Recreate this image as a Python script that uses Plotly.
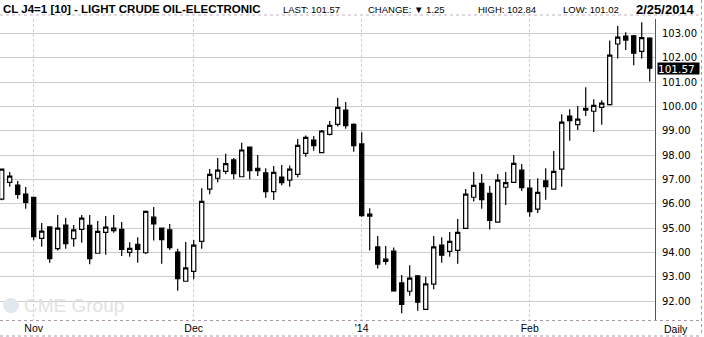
import plotly.graph_objects as go

# ---------------- data ----------------
dates = [
    "2013-10-28", "2013-10-29", "2013-10-30", "2013-10-31",
    "2013-11-01", "2013-11-04", "2013-11-05", "2013-11-06", "2013-11-07", "2013-11-08",
    "2013-11-11", "2013-11-12", "2013-11-13", "2013-11-14", "2013-11-15",
    "2013-11-18", "2013-11-19", "2013-11-20", "2013-11-21", "2013-11-22",
    "2013-11-25", "2013-11-26", "2013-11-27", "2013-11-29",
    "2013-12-02", "2013-12-03", "2013-12-04", "2013-12-05", "2013-12-06",
    "2013-12-09", "2013-12-10", "2013-12-11", "2013-12-12", "2013-12-13",
    "2013-12-16", "2013-12-17", "2013-12-18", "2013-12-19", "2013-12-20",
    "2013-12-23", "2013-12-24", "2013-12-26", "2013-12-27", "2013-12-30", "2013-12-31",
    "2014-01-02", "2014-01-03", "2014-01-06", "2014-01-07", "2014-01-08", "2014-01-09",
    "2014-01-10", "2014-01-13", "2014-01-14", "2014-01-15", "2014-01-16", "2014-01-17",
    "2014-01-21", "2014-01-22", "2014-01-23", "2014-01-24", "2014-01-27", "2014-01-28",
    "2014-01-29", "2014-01-30", "2014-01-31",
    "2014-02-03", "2014-02-04", "2014-02-05", "2014-02-06", "2014-02-07",
    "2014-02-10", "2014-02-11", "2014-02-12", "2014-02-13", "2014-02-14",
    "2014-02-18", "2014-02-19", "2014-02-20", "2014-02-21", "2014-02-24", "2014-02-25",
]
open_ = [
    96.19, 96.88, 96.77, 96.40,
    96.27, 94.58, 95.05, 94.16, 95.13, 94.57,
    94.95, 95.12, 93.97, 94.83, 94.90,
    94.95, 94.01, 94.34, 93.99, 95.45,
    95.00, 94.93, 94.02, 92.82,
    93.23, 94.46, 96.60, 97.05, 97.33,
    97.80, 97.11, 98.33, 97.46, 97.27,
    96.50, 97.10, 96.97, 97.21, 98.07,
    98.62, 98.10, 98.85, 99.26, 99.85, 99.26,
    98.46, 95.49, 94.23, 93.64, 94.06, 92.75,
    92.41, 93.04, 91.67, 92.70, 94.30, 94.05,
    94.09, 94.99, 96.27, 96.84, 96.43, 95.25,
    96.68, 96.88, 97.38,
    96.64, 95.78, 96.94, 96.60, 97.42,
    99.60, 99.25, 99.84, 99.80, 99.96,
    100.07, 102.56, 102.89, 102.90, 102.26, 102.80,
]
high = [
    97.45, 97.31, 96.94, 96.69,
    96.29, 95.21, 95.06, 95.54, 95.42, 95.13,
    95.54, 95.54, 95.29, 95.50, 95.54,
    95.25, 94.42, 94.63, 95.73, 95.87,
    95.02, 95.17, 94.15, 94.43,
    94.51, 96.64, 97.43, 97.88, 98.05,
    97.88, 98.51, 98.35, 98.00, 97.46,
    97.55, 97.59, 97.57, 98.66, 98.80,
    98.78, 99.03, 99.40, 100.34, 100.18, 99.31,
    98.94, 95.82, 94.68, 94.27, 94.21, 93.08,
    93.48, 93.08, 93.01, 94.68, 94.63, 94.84,
    95.38, 96.61, 97.31, 97.22, 96.73, 97.22,
    97.31, 98.00, 97.63,
    97.01, 97.05, 97.46, 98.17, 99.68,
    99.88, 100.02, 100.78, 100.29, 100.25,
    102.70, 103.30, 103.04, 102.93, 103.45, 102.84,
]
low = [
    96.15, 96.70, 96.21, 95.80,
    94.50, 94.24, 93.58, 94.08, 94.16, 94.24,
    94.40, 93.52, 93.96, 93.91, 94.81,
    93.86, 93.83, 93.58, 93.94, 94.49,
    93.54, 94.10, 92.43, 92.80,
    92.90, 94.16, 96.39, 96.88, 97.21,
    97.01, 97.09, 97.01, 97.14, 96.25,
    96.16, 96.76, 96.70, 97.09, 97.93,
    98.18, 98.08, 98.80, 99.17, 99.08, 98.14,
    95.47, 94.08, 93.34, 93.50, 92.39, 91.51,
    92.23, 91.61, 91.65, 92.49, 93.58, 93.83,
    93.54, 94.97, 96.09, 95.80, 94.95, 95.23,
    95.95, 96.86, 96.53,
    95.47, 95.62, 96.17, 96.58, 96.70,
    98.59, 99.03, 99.60, 98.95, 99.25,
    100.04, 101.97, 102.31, 101.69, 101.97, 101.02,
]
close = [
    97.42, 97.14, 96.39, 96.06,
    94.65, 94.88, 93.75, 95.00, 94.36, 94.93,
    95.41, 93.75, 94.87, 95.04, 95.00,
    94.13, 94.17, 94.13, 95.69, 95.18,
    94.53, 94.20, 92.93, 93.37,
    94.30, 96.10, 97.21, 97.38, 97.65,
    97.24, 98.21, 97.36, 97.36, 96.50,
    97.29, 96.87, 97.42, 98.40, 98.73,
    98.39, 98.99, 99.22, 99.96, 99.21, 98.39,
    95.51, 95.58, 93.52, 93.73, 92.42, 91.87,
    92.95, 91.96, 92.71, 94.23, 93.89, 94.46,
    94.83, 96.40, 96.76, 96.17, 95.32, 96.97,
    96.87, 97.66, 96.66,
    95.68, 96.47, 96.70, 97.33, 99.35,
    99.41, 99.48, 99.92, 100.04, 100.13,
    102.10, 102.84, 102.72, 102.18, 102.82, 101.57,
]
month_ticks = ["2013-11-01", "2013-12-02", "2014-01-02", "2014-02-03"]
month_labels = ["Nov", "Dec", "'14", "Feb"]
price_ticks = [92, 93, 94, 95, 96, 97, 98, 99, 100, 101, 102, 103]

title_text = "CL J4=1 [10] - LIGHT CRUDE OIL-ELECTRONIC"
last_price = 101.57
header_items = ["LAST: 101.57", "CHANGE: \u25BC 1.25", "HIGH: 102.84", "LOW: 101.02"]
date_text = "2/25/2014"

# ---------------- layout geometry ----------------
W, H = 704, 337
PL, PR, PT, PB = 0, 655, 19, 320


def px(x):
    return (x - PL) / (PR - PL)


def py(y):
    return (PB - y) / (PB - PT)


REG = "Liberation Sans, Arial, sans-serif"

fig = go.Figure()
fig.add_trace(go.Candlestick(
    x=dates, open=open_, high=high, low=low, close=close,
    increasing=dict(fillcolor="white", line=dict(color="black", width=1.2)),
    decreasing=dict(fillcolor="black", line=dict(color="black", width=1.2)),
    whiskerwidth=0, showlegend=False, hoverinfo="skip",
))

annotations = []
annotations.append(dict(
    text="<b>" + title_text + "</b>", x=px(1), y=py(9), xref="paper", yref="paper",
    xanchor="left", yanchor="middle", showarrow=False,
    font=dict(family=REG, size=11.5, color="black")))
for xpos, t in zip([281, 366, 476, 561], header_items):
    annotations.append(dict(
        text=t, x=px(xpos), y=py(9), xref="paper", yref="paper",
        xanchor="left", yanchor="middle", showarrow=False,
        font=dict(family=REG, size=9.5, color="black")))
annotations.append(dict(
    text="<b>" + date_text + "</b>", x=px(697), y=py(9), xref="paper", yref="paper",
    xanchor="right", yanchor="middle", showarrow=False,
    font=dict(family=REG, size=13, color="black")))
# last price box
annotations.append(dict(
    text="%.2f" % last_price, x=px(657), y=last_price, xref="paper", yref="y",
    xanchor="left", yanchor="middle", showarrow=False, bgcolor="black",
    width=41, height=11, borderpad=0, align="left",
    font=dict(family="DejaVu Sans, sans-serif", size=10.5, color="white")))
# Daily label
annotations.append(dict(
    text="Daily", x=px(676), y=py(329), xref="paper", yref="paper",
    xanchor="center", yanchor="middle", showarrow=False,
    font=dict(family=REG, size=10.5, color="black")))
# watermark
annotations.append(dict(
    text="CME Group", x=px(22), y=py(305), xref="paper", yref="paper",
    xanchor="left", yanchor="middle", showarrow=False,
    font=dict(family=REG, size=19, color="#e2e2e2")))

shapes = [
    # header separator
    dict(type="line", xref="paper", yref="paper", x0=0, x1=px(701), y0=py(15), y1=py(15),
         line=dict(color="#c0b4c0", width=1, dash="dot")),
    # x-axis line
    dict(type="line", xref="paper", yref="paper", x0=0, x1=px(701), y0=py(320.5), y1=py(320.5),
         line=dict(color="#a898a8", width=1, dash="dot")),
    # bottom border
    dict(type="line", xref="paper", yref="paper", x0=0, x1=px(701), y0=py(336), y1=py(336),
         line=dict(color="#a898a8", width=1, dash="dot")),
    # right border
    dict(type="line", xref="paper", yref="paper", x0=px(701.5), x1=px(701.5), y0=py(0), y1=py(336),
         line=dict(color="#a898a8", width=1, dash="dot")),
    # watermark globe
    dict(type="circle", xref="paper", yref="paper", x0=px(3), x1=px(19), y0=py(313), y1=py(298),
         fillcolor="#e2e8ef", line=dict(width=0)),
]

fig.update_layout(
    width=W, height=H, autosize=False,
    margin=dict(l=PL, r=W - PR, t=PT, b=H - PB, pad=0),
    paper_bgcolor="white", plot_bgcolor="white",
    boxgap=0.25,
    annotations=annotations, shapes=shapes,
    xaxis=dict(
        type="category", categoryorder="array", categoryarray=dates,
        range=[-0.2125, 81.66], rangeslider=dict(visible=False),
        tickmode="array", tickvals=month_ticks, ticktext=month_labels,
        showgrid=True, gridcolor="#cfcfcf", griddash="3px,2px", gridwidth=1,
        showline=False, zeroline=False, ticks="",
        tickfont=dict(family=REG, size=10.5, color="black"),
        fixedrange=True,
    ),
    yaxis=dict(
        side="right", range=[91.23, 103.587],
        tickmode="array", tickvals=price_ticks,
        ticktext=["%.2f" % v for v in price_ticks],
        showgrid=True, gridcolor="#c8d0c8", gridwidth=1,
        showline=True, linecolor="#555555", linewidth=1,
        zeroline=False, ticks="", ticklabelstandoff=4,
        tickfont=dict(family="DejaVu Sans, sans-serif", size=10, color="black"),
        automargin=False, fixedrange=True,
    ),
)

fig.write_html("out.html")
